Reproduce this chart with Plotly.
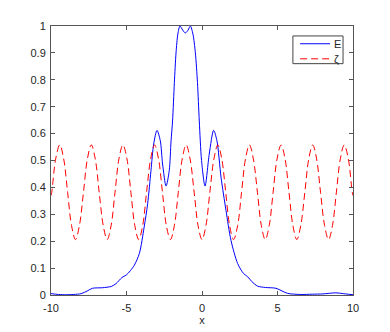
import plotly.graph_objects as go

# E curve
e_x = [-10, -9.5, -9.0, -8.5, -8.0, -7.6, -7.25, -6.6, -6.0, -5.7, -5.3, -5.0,
       -4.75, -4.48, -4.15, -3.83, -3.6, -3.38, -3.2, -2.98, -2.76, -2.61,
       -2.38, -2.17, -2.05, -1.95, -1.83, -1.72, -1.6, -1.46, -1.28, -1.1,
       -0.92, -0.77, -0.6, -0.44, -0.3, -0.18, -0.03, 0.2, 0.48, 0.77, 0.99,
       1.26, 1.59, 1.92, 2.36, 2.75, 3.02, 3.3, 3.68, 4.2, 4.9, 5.3, 5.67,
       6.5, 7.3, 8.0, 8.86, 9.5, 10]
e_y = [0.005, 0.002, 0.001, 0.002, 0.005, 0.015, 0.025, 0.027, 0.032, 0.042,
       0.065, 0.075, 0.09, 0.111, 0.154, 0.253, 0.339, 0.462, 0.561, 0.612,
       0.573, 0.487, 0.405, 0.462, 0.573, 0.647, 0.79, 0.9, 0.97, 1.0, 0.985,
       0.974, 0.985, 1.0, 0.97, 0.9, 0.79, 0.647, 0.5, 0.405, 0.524, 0.612,
       0.573, 0.438, 0.314, 0.203, 0.117, 0.08, 0.068, 0.05, 0.033, 0.028,
       0.025, 0.015, 0.006, 0.002, 0.003, 0.004, 0.008, 0.004, 0.001]

# zeta curve
z_x = [-10, -9.95, -9.69, -9.42, -9.16, -8.90, -8.64, -8.38, -8.12, -7.85,
       -7.59, -7.33, -7.07, -6.81, -6.54, -6.28, -6.02, -5.76, -5.50, -5.24,
       -4.97, -4.71, -4.45, -4.19, -3.93, -3.67, -3.40, -3.14, -2.88, -2.62,
       -2.36, -2.09, -1.83, -1.57, -1.31, -1.05, -0.79, -0.52, -0.26, 0,
       0.26, 0.52, 0.79, 1.05, 1.31, 1.57, 1.83, 2.09, 2.36, 2.62, 2.88, 3.14,
       3.40, 3.67, 3.93, 4.19, 4.45, 4.71, 4.97, 5.24, 5.50, 5.76, 6.02, 6.28,
       6.54, 6.81, 7.07, 7.33, 7.59, 7.85, 8.12, 8.38, 8.64, 8.90, 9.16, 9.42,
       9.69, 9.95, 10]
z_y = [0.37, 0.382, 0.506, 0.558, 0.506, 0.382, 0.258, 0.206, 0.258, 0.382,
       0.506, 0.558, 0.506, 0.382, 0.258, 0.206, 0.258, 0.382, 0.506, 0.558,
       0.506, 0.382, 0.258, 0.206, 0.258, 0.382, 0.506, 0.558, 0.506, 0.382,
       0.258, 0.206, 0.258, 0.382, 0.506, 0.558, 0.506, 0.382, 0.258, 0.206,
       0.258, 0.382, 0.506, 0.558, 0.506, 0.382, 0.258, 0.206, 0.258, 0.382,
       0.506, 0.558, 0.506, 0.382, 0.258, 0.206, 0.258, 0.382, 0.506, 0.558,
       0.506, 0.382, 0.258, 0.206, 0.258, 0.382, 0.506, 0.558, 0.506, 0.382,
       0.258, 0.206, 0.258, 0.382, 0.506, 0.558, 0.506, 0.382, 0.37]

x_ticks = [-10, -5, 0, 5, 10]
x_ticktext = ["-10", "-5", "0", "5", "10"]
y_ticks = [0, 0.1, 0.2, 0.3, 0.4, 0.5, 0.6, 0.7, 0.8, 0.9, 1]
y_ticktext = ["0", "0.1", "0.2", "0.3", "0.4", "0.5", "0.6", "0.7", "0.8", "0.9", "1"]

FONT = "Liberation Sans, Arial, sans-serif"
FSIZE = 11
E_COLOR = "#0000ff"
Z_COLOR = "#ff0000"
Z_DASH = "7px,4px"

fig = go.Figure()
fig.add_trace(go.Scatter(
    x=e_x, y=e_y, mode="lines", name="E",
    line=dict(color=E_COLOR, width=1, shape="spline", smoothing=0.8),
))
fig.add_trace(go.Scatter(
    x=z_x, y=z_y, mode="lines", name="ζ",
    line=dict(color=Z_COLOR, width=1, dash=Z_DASH, shape="spline", smoothing=1),
))

axis_style = dict(
    showgrid=False, zeroline=False, showline=True, linecolor="#555555",
    linewidth=1, mirror="ticks", ticks="inside", ticklen=4, tickcolor="#555555",
    tickfont=dict(family=FONT, size=FSIZE, color="#262626"),
)

fig.update_xaxes(range=[-10, 10], tickvals=x_ticks, ticktext=x_ticktext,
                 ticklabelstandoff=3,
                 title=dict(text="x", standoff=3,
                            font=dict(family=FONT, size=FSIZE, color="#262626")),
                 **axis_style)
fig.update_yaxes(range=[0, 1], tickvals=y_ticks, ticktext=y_ticktext,
                 ticklabelstandoff=2, **axis_style)

# legend drawn by hand (box, line samples, labels) to keep it compact
fig.add_shape(type="rect", xref="paper", yref="paper",
              x0=0.801, x1=0.967, y0=0.860, y1=0.963,
              line=dict(color="#444444", width=1), fillcolor="white", layer="above")
legend_rows = [("E", E_COLOR, "solid", 0.934), ("ζ", Z_COLOR, Z_DASH, 0.878)]
for label, color, dash, yy in legend_rows:
    fig.add_shape(type="line", xref="paper", yref="paper",
                  x0=0.825, x1=0.924, y0=yy, y1=yy,
                  line=dict(color=color, width=1, dash=dash), layer="above")
    fig.add_annotation(xref="paper", yref="paper", x=0.931, y=yy, text=label,
                       showarrow=False, xanchor="left", yanchor="middle",
                       font=dict(family=FONT, size=FSIZE, color="#262626"))

fig.update_layout(
    width=390, height=332,
    margin=dict(l=43, r=45, t=16, b=45),
    plot_bgcolor="white", paper_bgcolor="white",
    showlegend=False,
)

fig.write_html("out.html")
